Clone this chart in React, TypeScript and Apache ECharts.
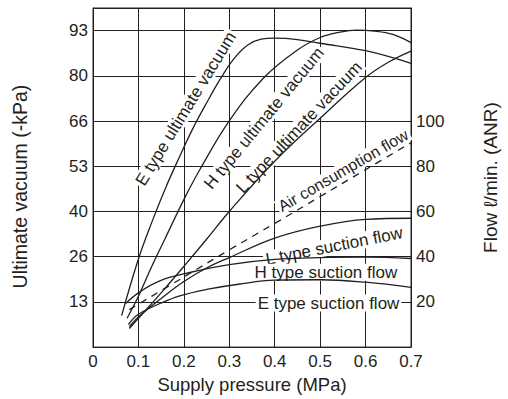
import React, { useEffect, useRef } from 'react';
import * as echarts from 'echarts';

// ---------- data (x: supply pressure MPa) ----------
const xLabels = ['0', '0.1', '0.2', '0.3', '0.4', '0.5', '0.6', '0.7'];
const yLeftLabels = ['13', '26', '40', '53', '66', '80', '93']; // -kPa (100..700 mmHg)
const yRightLabels = ['20', '40', '60', '80', '100']; // l/min (ANR)

// Ultimate vacuum curves, [MPa, -kPa]
const eVacuum: [number, number][] = [
  [0.063, 9.3], [0.1, 26], [0.13, 37], [0.16, 47], [0.19, 56], [0.22, 64.5], [0.25, 72],
  [0.28, 79], [0.31, 85], [0.34, 89], [0.37, 90.8], [0.4, 91.1], [0.45, 90.7], [0.5, 89.6],
  [0.6, 87.4], [0.7, 83.7],
];
const hVacuum: [number, number][] = [
  [0.075, 8.5], [0.1, 15], [0.13, 24], [0.158, 31.8], [0.2, 43.5], [0.235, 52.3], [0.3, 66.7],
  [0.375, 79.3], [0.45, 87.6], [0.5, 91.3], [0.54, 92.8], [0.58, 93.5], [0.62, 93.2],
  [0.66, 92.2], [0.7, 89.8],
];
const lVacuum: [number, number][] = [
  [0.08, 5.5], [0.1, 8.5], [0.15, 16], [0.2, 23.8], [0.25, 31.8], [0.3, 40], [0.4, 54.8],
  [0.5, 67.5], [0.6, 79.5], [0.65, 84], [0.7, 87.3],
];

// Flow curves, [MPa, l/min]
const airConsumption: [number, number][] = [
  [0.08, 16.6], [0.2, 31], [0.3, 43], [0.4, 54.7], [0.5, 66.6], [0.6, 78.5], [0.7, 90.4],
];
const lSuction: [number, number][] = [
  [0.08, 9], [0.1, 13.3], [0.15, 21.5], [0.2, 29], [0.25, 35], [0.3, 39.6], [0.4, 48.2],
  [0.5, 53.5], [0.6, 56.5], [0.7, 57],
];
const hSuction: [number, number][] = [
  [0.072, 19.3], [0.1, 24], [0.147, 29.3], [0.213, 33], [0.3, 36.5], [0.4, 38.8], [0.5, 39.6],
  [0.6, 39.8], [0.7, 39.2],
];
const eSuction: [number, number][] = [
  [0.078, 10], [0.1, 14.5], [0.15, 19.5], [0.191, 22.7], [0.25, 25.5], [0.32, 27.8],
  [0.4, 29.6], [0.5, 29.8], [0.6, 28.7], [0.7, 26.4],
];

// Curve annotations: anchor in [MPa, -kPa] data coords, angle in degrees
const curveLabels = [
  { text: 'E type ultimate vacuum', at: [0.2045, 70.3], angle: 58.5, size: 17 },
  { text: 'H type ultimate vacuum', at: [0.3766, 67.5], angle: 50.5, size: 17 },
  { text: 'L type ultimate vacuum', at: [0.4538, 64.8], angle: 46.5, size: 17 },
  { text: 'Air consumption flow', at: [0.5508, 52.1], angle: 30.2, size: 16 },
  { text: 'L type suction flow', at: [0.531, 29.8], angle: 11.2, size: 17 },
  { text: 'H type suction flow', at: [0.5127, 22.1], angle: 0, size: 17 },
  { text: 'E type suction flow', at: [0.5184, 13.0], angle: 0, size: 17 },
];

const INK = '#231f20';
const FONT = '"Liberation Sans", Arial, Helvetica, sans-serif';
const KPA_STEP = 40 / 3;

export default function App() {
  const ref = useRef<HTMLDivElement>(null);

  useEffect(() => {
    const chart = echarts.init(ref.current!, null, { renderer: 'svg' });

    const line = (name: string, data: [number, number][], yAxisIndex: number, dashed = false) => ({
      type: 'line',
      name,
      data,
      yAxisIndex,
      symbol: 'none',
      showSymbol: false,
      smooth: 0.4,
      silent: true,
      z: 3,
      lineStyle: { color: INK, width: 1.3, type: dashed ? [7, 6] : 'solid' },
    });

    const axisText = { color: INK, fontSize: 17, fontFamily: FONT };
    const nameText = { color: INK, fontSize: 18.5, fontFamily: FONT };

    chart.setOption({
      animation: false,
      grid: {
        left: 93, right: 97, top: 8, bottom: 51,
        show: true, borderColor: INK, borderWidth: 1, backgroundColor: 'transparent',
      },
      xAxis: {
        type: 'value', min: 0, max: 0.7, interval: 0.1,
        axisLine: { show: true, lineStyle: { color: INK, width: 1 } },
        axisTick: { show: false },
        splitLine: { show: true, lineStyle: { color: INK, width: 1 } },
        axisLabel: {
          ...axisText, margin: 6,
          formatter: (v: number) => xLabels[Math.round(v * 10)] ?? '',
        },
        name: 'Supply pressure (MPa)', nameLocation: 'middle', nameGap: 26,
        nameTextStyle: nameText,
      },
      yAxis: [
        {
          type: 'value', position: 'left', min: 0, max: 100, interval: KPA_STEP,
          axisLine: { show: true, lineStyle: { color: INK, width: 1 } },
          axisTick: { show: false },
          splitLine: { show: true, lineStyle: { color: INK, width: 1 } },
          axisLabel: {
            ...axisText, margin: 5,
            formatter: (v: number) => {
              const i = Math.round(v / KPA_STEP);
              return i >= 1 && i <= yLeftLabels.length && Math.abs(v - i * KPA_STEP) < 0.01
                ? yLeftLabels[i - 1] : '';
            },
          },
          name: 'Ultimate vacuum (-kPa)', nameLocation: 'middle', nameGap: 63,
          nameTextStyle: { ...nameText, fontSize: 19.5, padding: [0, 18, 0, 0] },
        },
        {
          type: 'value', position: 'right', min: 0, max: 150, interval: 20,
          axisLine: { show: true, lineStyle: { color: INK, width: 1 } },
          axisTick: { show: false },
          splitLine: { show: false },
          axisLabel: {
            ...axisText, margin: 5,
            formatter: (v: number) => (yRightLabels.includes(String(v)) ? String(v) : ''),
          },
          name: 'Flow ℓ/min. (ANR)', nameLocation: 'middle', nameGap: 70,
          nameTextStyle: { ...nameText, fontSize: 19 },
        },
      ],
      series: [
        line('E type ultimate vacuum', eVacuum, 0),
        line('H type ultimate vacuum', hVacuum, 0),
        line('L type ultimate vacuum', lVacuum, 0),
        line('Air consumption flow', airConsumption, 1, true),
        line('L type suction flow', lSuction, 1),
        line('H type suction flow', hSuction, 1),
        line('E type suction flow', eSuction, 1),
      ],
    });

    const graphic = curveLabels.map((l) => {
      const p = chart.convertToPixel({ xAxisIndex: 0, yAxisIndex: 0 }, l.at) as number[];
      return {
        type: 'text',
        x: p[0],
        y: p[1],
        rotation: (l.angle * Math.PI) / 180,
        z: 1,
        silent: true,
        style: {
          text: l.text,
          font: `${l.size}px ${FONT}`,
          fill: INK,
          align: 'center',
          verticalAlign: 'middle',
          backgroundColor: '#fff',
          padding: [0, 2],
        },
      };
    });
    chart.setOption({ graphic });

    return () => chart.dispose();
  }, []);

  return (
    <div
      ref={ref}
      style={{ position: 'fixed', left: 0, top: 0, width: 508, height: 399, background: '#fff' }}
    />
  );
}
